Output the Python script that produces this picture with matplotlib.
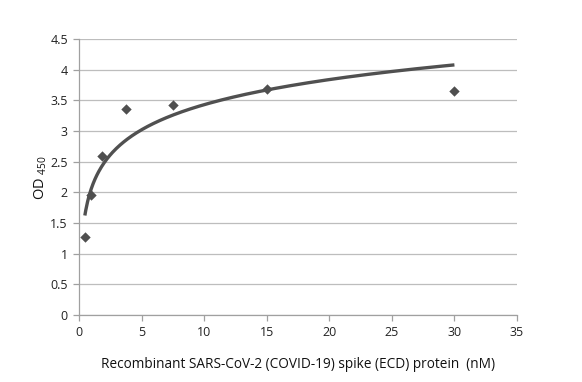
import numpy as np
import matplotlib
matplotlib.use("Agg")
import matplotlib.pyplot as plt

conc = [0.469, 0.938, 1.875, 3.75, 7.5, 15, 30]
od = [1.27, 1.95, 2.60, 3.36, 3.43, 3.68, 3.66]
xticks = [0, 5, 10, 15, 20, 25, 30, 35]
yticks = [0, 0.5, 1, 1.5, 2, 2.5, 3, 3.5, 4, 4.5]

plt.rcParams['font.family'] = ['Open Sans', 'DejaVu Sans']
plt.rcParams['mathtext.fontset'] = 'custom'
plt.rcParams['mathtext.rm'] = 'Open Sans'

fig = plt.figure(figsize=(5.82, 3.82), dpi=100)
ax = fig.add_axes([0.1357, 0.1754, 0.7526, 0.7225])

# logarithmic trendline fitted from data
b, a = np.polyfit(np.log(conc), od, 1)
xs = np.linspace(min(conc), max(conc), 400)
ax.plot(xs, a + b * np.log(xs), color='#505050', lw=2.4, zorder=3, solid_capstyle='butt')
ax.scatter(conc, od, marker='D', s=28, color='#4f4f4f', zorder=4, linewidths=0)

ax.set_xlim(0, 35)
ax.set_ylim(0, 4.5)
ax.set_xticks(xticks)
ax.set_xticklabels([str(t) for t in xticks])
ax.set_yticks(yticks)
ax.set_yticklabels([f"{t:g}" for t in yticks])
ax.grid(axis='y', color='#bdbdbd', lw=0.9)
ax.set_axisbelow(True)
for s in ['top', 'right']:
    ax.spines[s].set_visible(False)
for s in ['left', 'bottom']:
    ax.spines[s].set_color('#a0a0a0')
    ax.spines[s].set_linewidth(0.9)
ax.tick_params(axis='both', color='#a0a0a0', length=4, width=0.9, labelsize=9, labelcolor='#222222', pad=4)
ax.set_xlabel('Recombinant SARS-CoV-2 (COVID-19) spike (ECD) protein  (nM)', fontsize=9.8, color='#111111', labelpad=13)
ax.set_ylabel(r'OD $_\mathregular{450}$', fontsize=10.5, color='#111111', labelpad=1)

fig.savefig('out.png', dpi=100, facecolor='white')
